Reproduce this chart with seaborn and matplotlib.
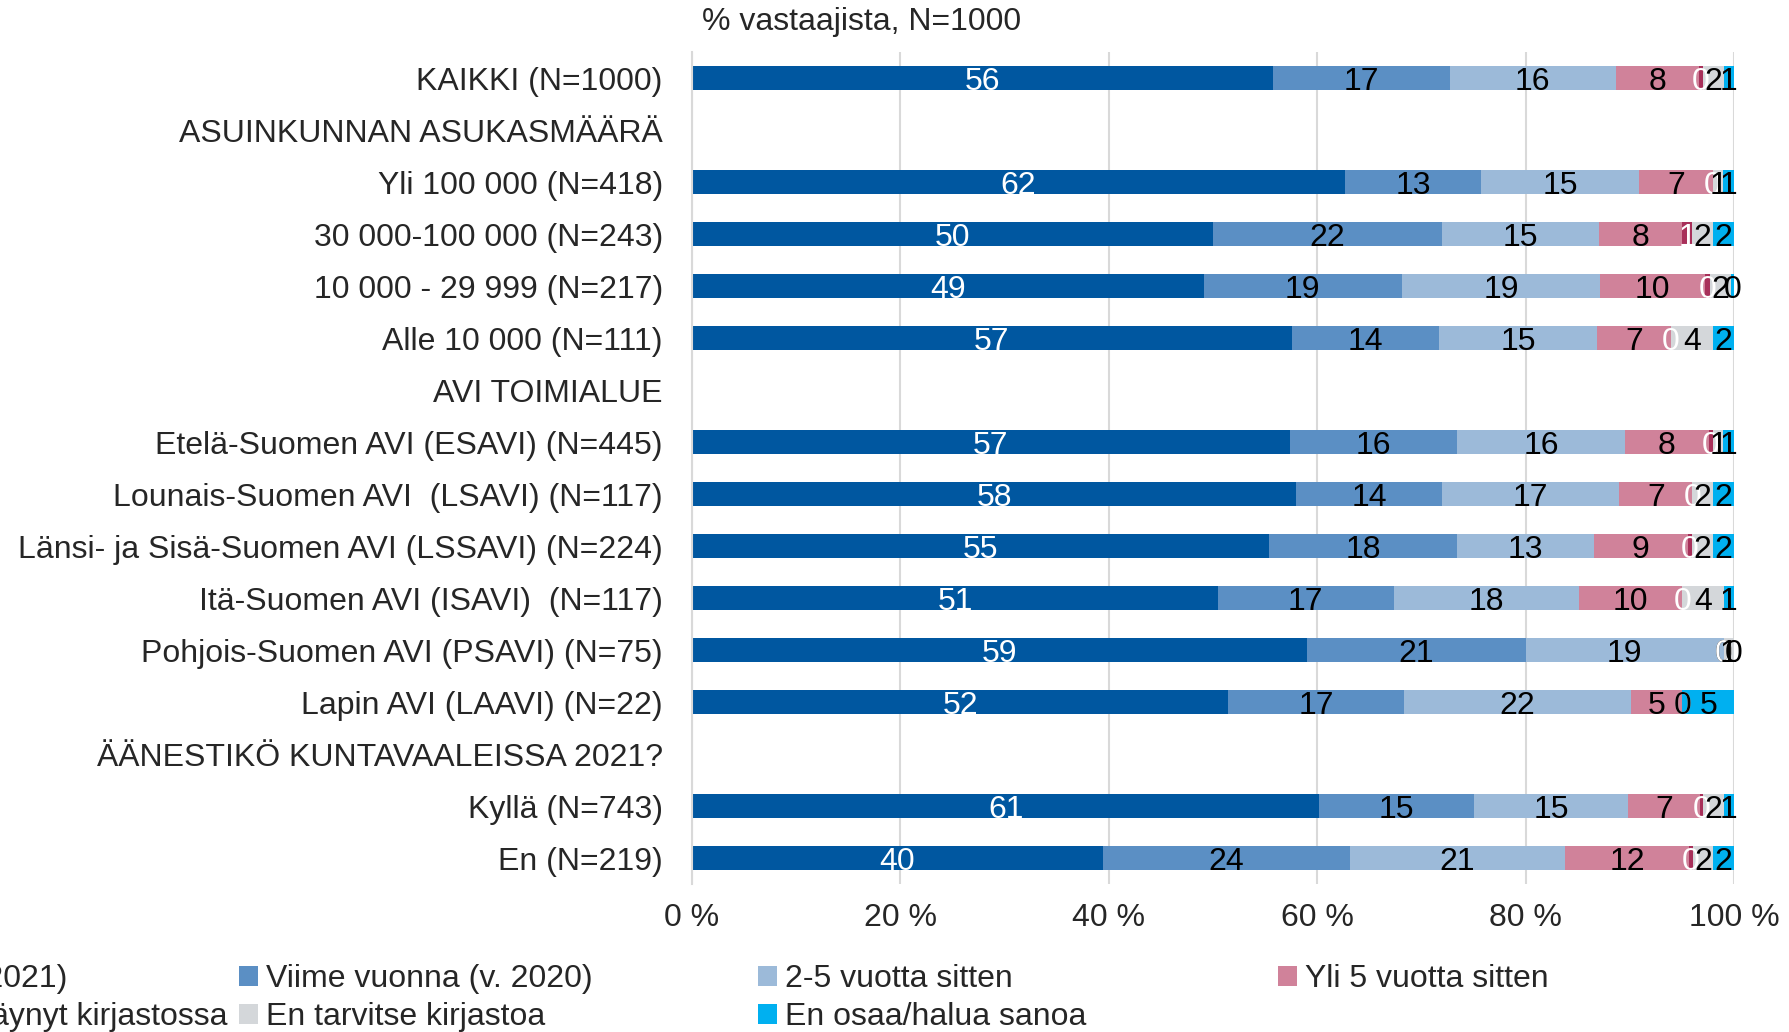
import numpy as np
import matplotlib.pyplot as plt
import seaborn as sns
from matplotlib.patches import Patch

sns.set_theme(style="white")
plt.rcParams['font.family'] = ['Liberation Sans', 'DejaVu Sans']

# Row labels (section headers have no bar)
categories = [
    "KAIKKI (N=1000)",
    "ASUINKUNNAN ASUKASMÄÄRÄ",
    "Yli 100 000 (N=418)",
    "30 000-100 000 (N=243)",
    "10 000 - 29 999 (N=217)",
    "Alle 10 000 (N=111)",
    "AVI TOIMIALUE",
    "Etelä-Suomen AVI (ESAVI) (N=445)",
    "Lounais-Suomen AVI  (LSAVI) (N=117)",
    "Länsi- ja Sisä-Suomen AVI (LSSAVI) (N=224)",
    "Itä-Suomen AVI (ISAVI)  (N=117)",
    "Pohjois-Suomen AVI (PSAVI) (N=75)",
    "Lapin AVI (LAAVI) (N=22)",
    "ÄÄNESTIKÖ KUNTAVAALEISSA 2021?",
    "Kyllä (N=743)",
    "En (N=219)",
]

series_names = [
    "Tänä vuonna (v. 2021)",
    "Viime vuonna (v. 2020)",
    "2-5 vuotta sitten",
    "Yli 5 vuotta sitten",
    "En ole koskaan käynyt kirjastossa",
    "En tarvitse kirjastoa",
    "En osaa/halua sanoa",
]

nan = np.nan
tana_vuonna = [56, nan, 62, 50, 49, 57, nan, 57, 58, 55, 51, 59, 52, nan, 61, 40]
viime_vuonna = [17, nan, 13, 22, 19, 14, nan, 16, 14, 18, 17, 21, 17, nan, 15, 24]
vuotta_2_5 = [16, nan, 15, 15, 19, 15, nan, 16, 17, 13, 18, 19, 22, nan, 15, 21]
yli_5 = [8, nan, 7, 8, 10, 7, nan, 8, 7, 9, 10, 0, 5, nan, 7, 12]
ei_koskaan = [0.4, nan, 0, 1, 0.5, 0, nan, 0.4, 0, 0.4, 0, 0, 0, nan, 0.3, 0.4]
ei_tarvitse = [2, nan, 1, 2, 2, 4, nan, 1, 2, 2, 4, 1, 0, nan, 2, 2]
ei_osaa = [1, nan, 1, 2, 0.3, 2, nan, 1, 2, 2, 1, 0, 5, nan, 1, 2]

colors = ["#0057A0", "#5B8FC4", "#9CBAD9", "#D0829A", "#A8305A", "#D4D7DA", "#00B0F0"]
label_colors = ["white", "black", "black", "black", "white", "black", "black"]

values = np.array([tana_vuonna, viime_vuonna, vuotta_2_5, yli_5,
                   ei_koskaan, ei_tarvitse, ei_osaa], dtype=float)
# 100 % stacked: normalise each row by its total
shares = values / values.sum(axis=0) * 100
lefts = np.vstack([np.zeros(values.shape[1]), np.cumsum(shares, axis=0)[:-1]])

fig = plt.figure(figsize=(17.9, 10.32), dpi=100)
ax = fig.add_axes([0.3866, 0.1434, 0.5821, 0.8062])

y = np.arange(len(categories))
fs = 23
for i in range(len(series_names)):
    bars = ax.barh(y, shares[i], left=lefts[i], height=0.48,
                   color=colors[i], edgecolor="none", zorder=2)
    labels = ["" if np.isnan(v) else f"{v:.0f}" for v in values[i]]
    texts = ax.bar_label(bars, labels=labels, label_type="center",
                         color=label_colors[i], fontsize=fs)
    for t in texts:
        t.set_va("center_baseline")

ax.set_xlim(0, 100)
ax.set_ylim(len(categories) - 0.5, -0.5)
ax.set_yticks(y)
ax.set_yticklabels(categories, fontsize=fs)
ax.set_xticks(np.arange(0, 101, 20))
ax.set_xticklabels([f"{t} %" for t in range(0, 101, 20)], fontsize=fs)
ax.tick_params(axis="y", length=0, pad=21)
ax.tick_params(axis="x", length=0, pad=14)
ax.xaxis.grid(True, color="#D9D9D9", linewidth=1.5, zorder=0)
ax.yaxis.grid(False)
ax.set_axisbelow(True)
for side in ["top", "right", "bottom"]:
    ax.spines[side].set_visible(False)
ax.spines["left"].set_color("#D9D9D9")
ax.spines["left"].set_linewidth(1.5)

fig.text(862 / 1790, 1 - 22 / 1032, "% vastaajista, N=1000",
         fontsize=fs, ha="center", va="center")

# Legend: four equally spaced columns, two rows (first column runs off the left edge)
handles = [Patch(facecolor=c, edgecolor="none") for c in colors]
columns = [[0, 4], [1, 5], [2, 6], [3]]
col_x = [-280, 239, 758, 1278]
for cx, idx in zip(col_x, columns):
    fig.legend([handles[k] for k in idx], [series_names[k] for k in idx],
               loc="upper left", bbox_to_anchor=(cx / 1790, 1 - 964 / 1032),
               frameon=False, fontsize=fs, borderpad=0, borderaxespad=0,
               handlelength=0.6, handleheight=0.6, handletextpad=0.25,
               labelspacing=0.25)

fig.savefig("out.png", dpi=100)
